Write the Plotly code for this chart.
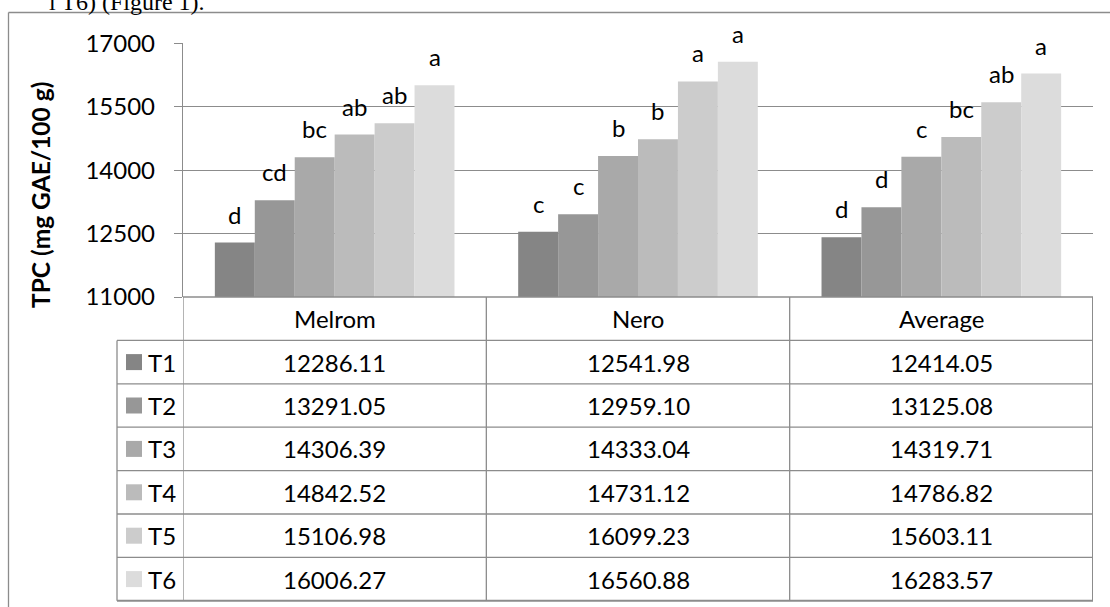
import plotly.graph_objects as go

categories = ["Melrom", "Nero", "Average"]
series_names = ["T1", "T2", "T3", "T4", "T5", "T6"]
values = {
    "T1": [12286.11, 12541.98, 12414.05],
    "T2": [13291.05, 12959.10, 13125.08],
    "T3": [14306.39, 14333.04, 14319.71],
    "T4": [14842.52, 14731.12, 14786.82],
    "T5": [15106.98, 16099.23, 15603.11],
    "T6": [16006.27, 16560.88, 16283.57],
}
letters = {
    "T1": ["d", "c", "d"],
    "T2": ["cd", "c", "d"],
    "T3": ["bc", "b", "c"],
    "T4": ["ab", "b", "bc"],
    "T5": ["ab", "a", "ab"],
    "T6": ["a", "a", "a"],
}
y_ticks = [11000, 12500, 14000, 15500, 17000]
y_title = "TPC (mg GAE/100 g)"
page_text = "l T6) (Figure 1)."

colors = ["#858585", "#979797", "#a9a9a9", "#bbbbbb", "#cccccc", "#dcdcdc"]
grid = "#8c8c8c"
FONT = "Lato, Carlito, Calibri, sans-serif"
W, H = 1110, 607

def PX(x):
    return x / W

def PY(y):
    return 1 - y / H

# layout geometry (pixels)
plot_l, plot_r, plot_t, plot_b = 183, 1093, 43.3, 297
leg_l = 117
row_h = 43.4
bargap = 0.21

fig = go.Figure()
for j, s in enumerate(series_names):
    fig.add_trace(go.Bar(
        x=categories, y=values[s], name=s,
        marker=dict(color=colors[j], line=dict(width=0)),
        showlegend=False,
    ))

annotations = []
shapes = []

# significance letters above bars
gw = 1 - bargap
bw = gw / len(series_names)
for j, s in enumerate(series_names):
    for i, c in enumerate(categories):
        annotations.append(dict(
            x=i - gw / 2 + (j + 0.5) * bw, y=values[s][i], xref="x", yref="y",
            text=letters[s][i], showarrow=False, yanchor="bottom", yshift=12,
            font=dict(family=FONT, size=24, color="black"),
        ))

# y axis title
annotations.append(dict(
    x=PX(40), y=PY(195), xref="paper", yref="paper", text="<b>" + y_title + "</b>",
    textangle=-90, showarrow=False, font=dict(family=FONT, size=24.5, color="black"),
    xanchor="center", yanchor="middle",
))

# page text (cut off at the top, as in the source)
annotations.append(dict(
    x=PX(207), y=PY(17), xref="paper", yref="paper", text=page_text,
    showarrow=False, xanchor="right", yanchor="bottom",
    font=dict(family="Liberation Serif, Times New Roman, serif", size=24, color="black"),
))

# data table
n_rows = len(series_names)
top = plot_b
lines_y = [top + k * row_h for k in range(n_rows + 2)]
bottom = lines_y[-1]
lw = 1.3
shapes.append(dict(type="line", xref="x", yref="paper", x0=-0.5, x1=len(categories) - 0.5,
                   y0=PY(top), y1=PY(top), line=dict(color=grid, width=lw)))
for k in range(1, n_rows + 2):
    shapes.append(dict(type="line", xref="paper", yref="paper", x0=PX(leg_l), x1=PX(plot_r),
                       y0=PY(lines_y[k]), y1=PY(lines_y[k]),
                       line=dict(color=grid, width=2 if k == n_rows + 1 else lw)))
for b in range(len(categories) + 1):
    shapes.append(dict(type="line", xref="x", yref="paper", x0=b - 0.5, x1=b - 0.5,
                       y0=PY(top), y1=PY(bottom),
                       line=dict(color=grid, width=2 if b == len(categories) else lw)))
shapes.append(dict(type="line", xref="paper", yref="paper", x0=PX(leg_l), x1=PX(leg_l),
                   y0=PY(lines_y[1]), y1=PY(bottom), line=dict(color=grid, width=lw)))

for i, c in enumerate(categories):
    annotations.append(dict(x=i, y=PY((lines_y[0] + lines_y[1]) / 2), xref="x", yref="paper",
                            text=c, showarrow=False, xanchor="center", yanchor="middle",
                            font=dict(family=FONT, size=24, color="black")))
for j, s in enumerate(series_names):
    yc = (lines_y[j + 1] + lines_y[j + 2]) / 2
    shapes.append(dict(type="rect", xref="paper", yref="paper",
                       x0=PX(126), x1=PX(142), y0=PY(yc - 8), y1=PY(yc + 8),
                       fillcolor=colors[j], line=dict(width=0)))
    annotations.append(dict(x=PX(146), y=PY(yc), xref="paper", yref="paper", text=s,
                            showarrow=False, xanchor="left", yanchor="middle",
                            font=dict(family=FONT, size=24, color="black")))
    for i, c in enumerate(categories):
        annotations.append(dict(x=i, y=PY(yc), xref="x", yref="paper",
                                text=f"{values[s][i]:.2f}", showarrow=False,
                                xanchor="center", yanchor="middle",
                                font=dict(family=FONT, size=24, color="black")))

# outer chart frame (left and top edges visible)
shapes.append(dict(type="line", xref="paper", yref="paper", x0=PX(8.5), x1=PX(8.5),
                   y0=PY(12.5), y1=PY(H + 5), line=dict(color=grid, width=lw)))
shapes.append(dict(type="line", xref="paper", yref="paper", x0=PX(8.5), x1=PX(W + 5),
                   y0=PY(12.5), y1=PY(12.5), line=dict(color=grid, width=lw)))

fig.update_layout(
    template="none",
    width=W, height=H,
    margin=dict(l=0, r=0, t=0, b=0, pad=0, autoexpand=False),
    paper_bgcolor="white", plot_bgcolor="white",
    barmode="group", bargap=bargap, bargroupgap=0,
    font=dict(family=FONT, size=24, color="black"),
    hovermode=False,
    xaxis=dict(domain=[PX(plot_l), PX(plot_r)], range=[-0.5, len(categories) - 0.5],
               showticklabels=False, ticks="", showgrid=False, zeroline=False,
               showline=False, automargin=False),
    yaxis=dict(domain=[PY(plot_b), PY(plot_t)], range=[y_ticks[0], y_ticks[-1]],
               tickvals=y_ticks, ticktext=[str(t) for t in y_ticks],
               showgrid=True, gridcolor=grid, gridwidth=lw, zeroline=False,
               showline=True, linecolor=grid, linewidth=lw,
               ticks="outside", ticklen=8, tickcolor=grid, tickwidth=lw,
               ticklabelstandoff=14, automargin=False,
               tickfont=dict(family=FONT, size=24, color="black")),
    annotations=annotations,
    shapes=shapes,
)

fig.write_html(
    "out.html",
    config={"displayModeBar": False},
    post_script="document.body.style.margin='0px';document.body.style.overflow='hidden';",
)
